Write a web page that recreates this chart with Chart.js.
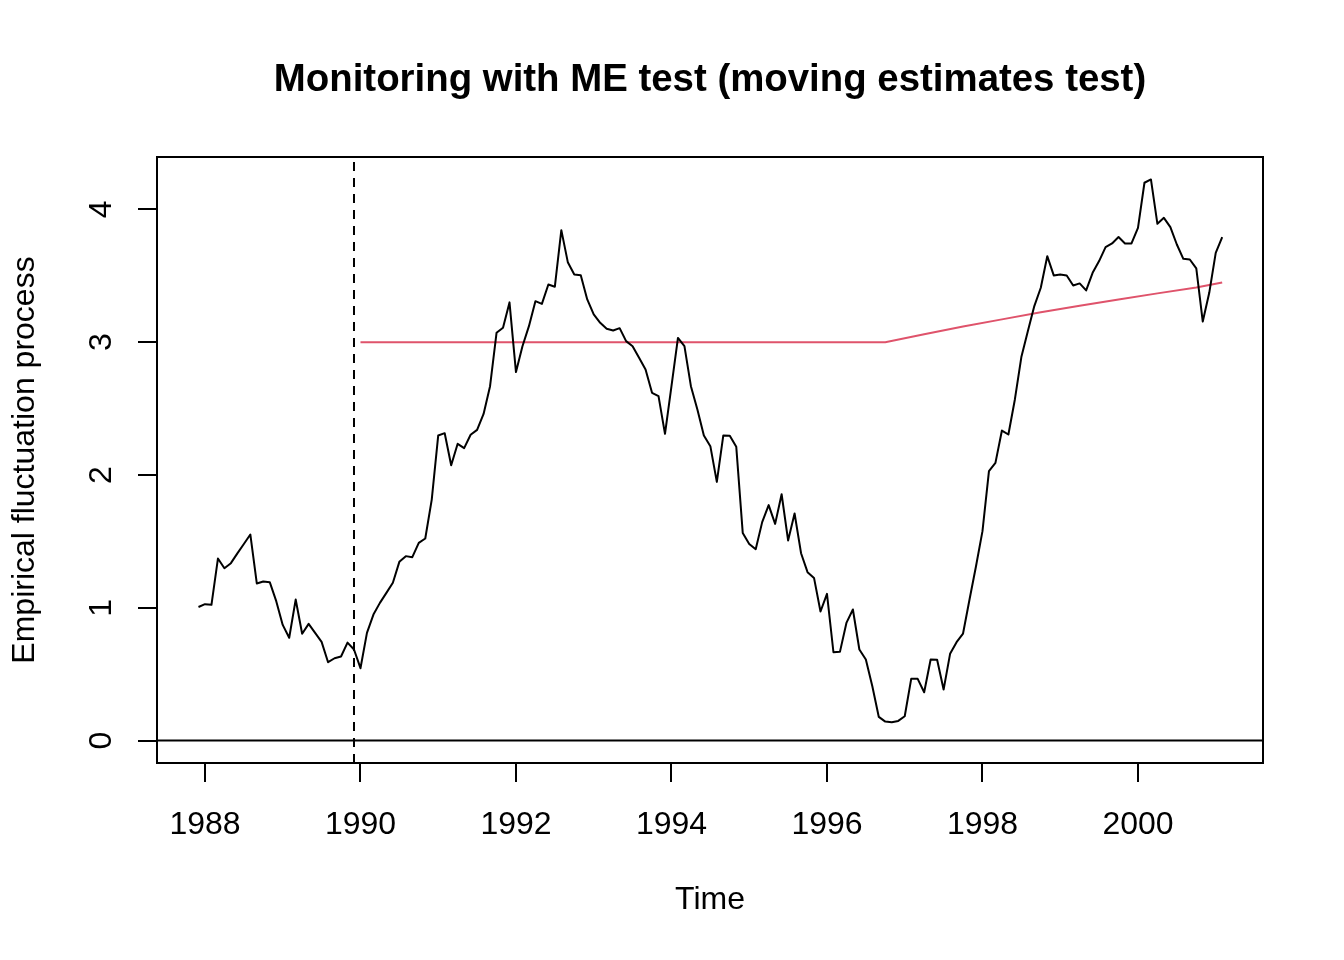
<!DOCTYPE html>
<html>
<head>
<meta charset="utf-8">
<title>Monitoring with ME test</title>
<script src="https://cdn.jsdelivr.net/npm/chart.js@4.4.1/dist/chart.umd.min.js"></script>
<style>
  html, body { margin: 0; padding: 0; background: #fff; }
  #chart { display: block; }
</style>
</head>
<body>
<canvas id="chart" width="1344" height="960" style="width:1344px;height:960px"></canvas>
<script>
// Monthly series, first observation Dec 1987
const startTime = 1987 + 11 / 12;
const frequency = 12;

// Empirical fluctuation process
const processValues = [
  1.006, 1.027, 1.022, 1.371, 1.298, 1.336, 1.410, 1.480, 1.552, 1.183,
  1.198, 1.193, 1.050, 0.871, 0.774, 1.062, 0.804, 0.879, 0.811, 0.743,
  0.590, 0.620, 0.633, 0.738, 0.686, 0.545, 0.811, 0.949, 1.037, 1.112,
  1.188, 1.346, 1.389, 1.381, 1.489, 1.522, 1.815, 2.298, 2.315, 2.074,
  2.235, 2.202, 2.303, 2.340, 2.460, 2.669, 3.071, 3.109, 3.300, 2.775,
  2.970, 3.121, 3.309, 3.289, 3.435, 3.418, 3.844, 3.603, 3.510, 3.505,
  3.322, 3.209, 3.146, 3.101, 3.088, 3.106, 3.008, 2.970, 2.883, 2.795,
  2.619, 2.594, 2.310, 2.670, 3.032, 2.970, 2.669, 2.493, 2.298, 2.217,
  1.948, 2.298, 2.295, 2.212, 1.564, 1.481, 1.441, 1.645, 1.773, 1.632,
  1.855, 1.507, 1.710, 1.411, 1.268, 1.225, 0.972, 1.105, 0.665, 0.668,
  0.886, 0.987, 0.686, 0.610, 0.409, 0.178, 0.143, 0.138, 0.148, 0.183,
  0.465, 0.465, 0.364, 0.610, 0.608, 0.384, 0.653, 0.741, 0.806, 1.062,
  1.313, 1.577, 2.029, 2.091, 2.335, 2.305, 2.569, 2.888, 3.083, 3.272,
  3.410, 3.648, 3.503, 3.510, 3.503, 3.427, 3.443, 3.390, 3.523, 3.611,
  3.716, 3.744, 3.792, 3.744, 3.744, 3.862, 4.201, 4.226, 3.892, 3.937,
  3.867, 3.736, 3.628, 3.623, 3.556, 3.156, 3.372, 3.673, 3.792
];

// Boundary (red line)
const boundaryTimes  = [1990.0, 1996.75, 1997.25, 1997.75, 1998.25, 1998.75, 1999.25, 1999.75, 2000.25, 2000.75, 2001.083];
const boundaryValues = [3.0,    3.0,     3.06,    3.118,   3.172,   3.225,   3.275,   3.322,   3.368,   3.412,   3.45];

// End of history period (dashed vertical line)
const historyEnd = 1989 + 11 / 12;

const xTicks = [1988, 1990, 1992, 1994, 1996, 1998, 2000];
const yTicks = [0, 1, 2, 3, 4];

// R style axis limits (data range + 4%)
const xMin = 1987.383, xMax = 2001.608;
const yMin = -0.169, yMax = 4.395;

const FONT = "'Liberation Sans', Arial, Helvetica, sans-serif";
const TITLE = 'Monitoring with ME test (moving estimates test)';

const processPoints = processValues.map((v, i) => ({ x: startTime + i / frequency, y: v }));
const boundaryPoints = boundaryTimes.map((t, i) => ({ x: t, y: boundaryValues[i] }));

// box round the plot region, and the main title centred over it (as R does)
const boxPlugin = {
  id: 'box',
  afterDraw(chart) {
    const { ctx, chartArea: a } = chart;
    ctx.save();
    ctx.strokeStyle = '#000';
    ctx.lineWidth = 2;
    ctx.strokeRect(a.left, a.top, a.right - a.left, a.bottom - a.top);

    ctx.fillStyle = '#000';
    ctx.font = 'bold 38.4px ' + FONT;
    ctx.textAlign = 'center';
    ctx.textBaseline = 'middle';
    ctx.fillText(TITLE, (a.left + a.right) / 2, 80);
    ctx.restore();
  }
};

new Chart(document.getElementById('chart'), {
  type: 'line',
  data: {
    datasets: [
      {
        label: 'process',
        data: processPoints,
        borderColor: '#000',
        borderWidth: 2,
        pointRadius: 0,
        borderJoinStyle: 'round',
        tension: 0
      },
      {
        label: 'boundary',
        data: boundaryPoints,
        borderColor: '#DF536B',
        borderWidth: 2,
        pointRadius: 0,
        tension: 0
      },
      {
        label: 'history end',
        data: [{ x: historyEnd, y: yMin }, { x: historyEnd, y: yMax }],
        borderColor: '#000',
        borderWidth: 2,
        borderDash: [9, 7],
        pointRadius: 0
      },
      {
        label: 'zero',
        data: [{ x: xMin, y: 0 }, { x: xMax, y: 0 }],
        borderColor: '#000',
        borderWidth: 2,
        pointRadius: 0
      }
    ]
  },
  options: {
    responsive: false,
    animation: false,
    events: [],
    layout: { padding: { left: 0, right: 81, top: 157, bottom: 0 } },
    plugins: {
      legend: { display: false },
      tooltip: { enabled: false },
      title: { display: false }
    },
    scales: {
      x: {
        type: 'linear',
        min: xMin,
        max: xMax,
        afterBuildTicks: s => { s.ticks = xTicks.map(v => ({ value: v })); },
        afterFit: s => { s.height = 197; },
        grid: { display: true, drawOnChartArea: false, drawTicks: true, tickLength: 19, color: '#000', lineWidth: 2 },
        border: { display: true, color: '#000', width: 2 },
        ticks: {
          color: '#000',
          font: { family: FONT, size: 32 },
          padding: 24,
          maxRotation: 0,
          autoSkip: false,
          callback: v => String(v)
        },
        title: {
          display: true,
          text: 'Time',
          color: '#000',
          font: { family: FONT, size: 32 },
          padding: { top: 0, bottom: 41 }
        }
      },
      y: {
        type: 'linear',
        min: yMin,
        max: yMax,
        afterBuildTicks: s => { s.ticks = yTicks.map(v => ({ value: v })); },
        afterFit: s => { s.width = 157; },
        grid: { display: true, drawOnChartArea: false, drawTicks: true, tickLength: 19, color: '#000', lineWidth: 2 },
        border: { display: true, color: '#000', width: 2 },
        ticks: {
          color: '#000',
          font: { family: FONT, size: 32 },
          padding: 27,
          minRotation: 90,
          maxRotation: 90,
          crossAlign: 'center',
          autoSkip: false,
          callback: v => String(v)
        },
        title: {
          display: true,
          text: 'Empirical fluctuation process',
          color: '#000',
          font: { family: FONT, size: 32 },
          padding: { top: 6, bottom: 0 }
        }
      }
    }
  },
  plugins: [boxPlugin]
});
</script>
</body>
</html>
